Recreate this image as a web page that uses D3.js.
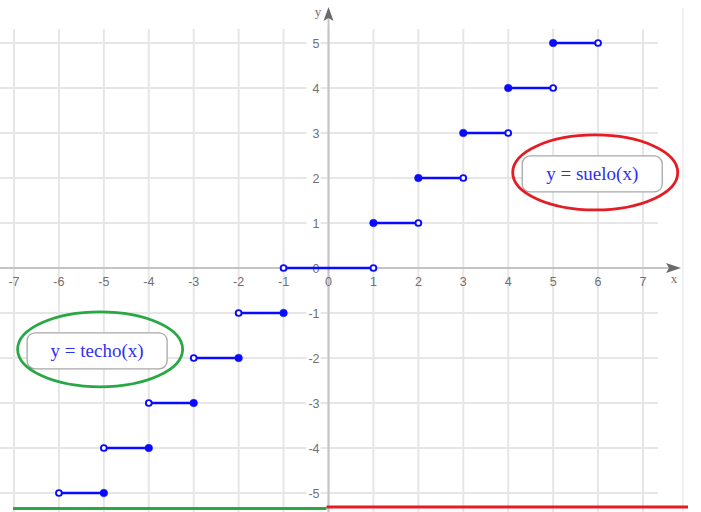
<!DOCTYPE html>
<html>
<head>
<meta charset="utf-8">
<script src="https://cdn.jsdelivr.net/npm/d3@7/dist/d3.min.js"></script>
<style>
  html, body { margin: 0; padding: 0; background: #fff; }
  svg { display: block; }
</style>
</head>
<body>
<svg id="chart" width="701" height="512"></svg>
<script>
// Tick values along each axis
const xTicks = [-7, -6, -5, -4, -3, -2, -1, 0, 1, 2, 3, 4, 5, 6, 7];
const yTicks = [-5, -4, -3, -2, -1, 1, 2, 3, 4, 5];

// Step segments: floor(x) for x >= 0, ceiling(x) for x <= 0
const segStart  = [-6, -5, -4, -3, -2, -1, 1, 2, 3, 4, 5];
const segEnd    = [-5, -4, -3, -2, -1, 1, 2, 3, 4, 5, 6];
const segLevel  = [-5, -4, -3, -2, -1, 0, 1, 2, 3, 4, 5];
const startShut = [false, false, false, false, false, false, true, true, true, true, true];
const endShut   = [true, true, true, true, true, false, false, false, false, false, false];

// Function labels
const labelTexts = ["y = suelo(x)", "y = techo(x)"];
const labelCenters = [[5.87, 2.09], [-5.15, -1.84]];
const labelColors = ["#e41c24", "#27a844"];

const svg = d3.select("#chart");
const x = d3.scaleLinear().domain([-7, 7]).range([14, 643]);
const y = d3.scaleLinear().domain([-5, 5]).range([493, 43]);

const gridColor = "#e6e6e6";
const axisColor = "#c4c4c4";

// Grid
const grid = svg.append("g");
grid.selectAll("line.v").data(xTicks).join("line")
  .attr("x1", d => x(d)).attr("x2", d => x(d))
  .attr("y1", 29).attr("y2", 512)
  .attr("stroke", gridColor).attr("stroke-width", 2);
grid.selectAll("line.h").data(yTicks).join("line")
  .attr("x1", 0).attr("x2", 658)
  .attr("y1", d => y(d)).attr("y2", d => y(d))
  .attr("stroke", gridColor).attr("stroke-width", 2);
grid.append("line")
  .attr("x1", x(8) - 5).attr("x2", x(8) - 5)
  .attr("y1", 8).attr("y2", 512)
  .attr("stroke", "#e8e8e8").attr("stroke-width", 1.2);

// Axes
svg.append("line")
  .attr("x1", 0).attr("x2", 670)
  .attr("y1", y(0)).attr("y2", y(0))
  .attr("stroke", axisColor).attr("stroke-width", 2);
svg.append("line")
  .attr("x1", x(0)).attr("x2", x(0))
  .attr("y1", 512).attr("y2", 18)
  .attr("stroke", axisColor).attr("stroke-width", 2);
svg.append("path")
  .attr("d", `M${x(0)},7 L${x(0) + 5},21 L${x(0)},18 L${x(0) - 5},21 Z`)
  .attr("fill", "#6a6a6a");
svg.append("path")
  .attr("d", `M681,${y(0)} L666,${y(0) - 5} L669,${y(0)} L666,${y(0) + 5} Z`)
  .attr("fill", "#6a6a6a");

// Axis tick labels
const tickFont = "Liberation Sans, Arial, sans-serif";
svg.append("g").selectAll("text").data(xTicks).join("text")
  .attr("x", d => x(d)).attr("y", y(0) + 18)
  .attr("text-anchor", "middle")
  .attr("font-family", tickFont).attr("font-size", 12.5)
  .attr("fill", "#707070")
  .text(d => d);
const yLab = svg.append("g").selectAll("g").data(yTicks.concat([0])).join("g");
yLab.append("rect")
  .attr("x", x(0) - 22).attr("y", d => y(d) - 7)
  .attr("width", 14).attr("height", 14)
  .attr("fill", "#fff");
yLab.append("text")
  .attr("x", x(0) - 9).attr("y", d => y(d) + 4.5)
  .attr("text-anchor", "end")
  .attr("font-family", tickFont).attr("font-size", 12.5)
  .attr("fill", "#707070")
  .text(d => d);

svg.append("text").attr("x", 674).attr("y", 283)
  .attr("text-anchor", "middle")
  .attr("font-family", "Liberation Serif, serif").attr("font-size", 13)
  .attr("fill", "#707070").text("x");
svg.append("text").attr("x", 318).attr("y", 16)
  .attr("text-anchor", "middle")
  .attr("font-family", "Liberation Serif, serif").attr("font-size", 13)
  .attr("fill", "#707070").text("y");

// Step segments
const blue = "#0a0aff";
const segs = segLevel.map((v, i) => ({ a: segStart[i], b: segEnd[i], v, sa: startShut[i], sb: endShut[i] }));
svg.append("g").selectAll("line").data(segs).join("line")
  .attr("x1", d => x(d.a)).attr("x2", d => x(d.b))
  .attr("y1", d => y(d.v)).attr("y2", d => y(d.v))
  .attr("stroke", blue).attr("stroke-width", 2.5);
const dots = [];
segs.forEach(d => {
  dots.push({ cx: d.a, cy: d.v, shut: d.sa });
  dots.push({ cx: d.b, cy: d.v, shut: d.sb });
});
svg.append("g").selectAll("circle").data(dots).join("circle")
  .attr("cx", d => x(d.cx)).attr("cy", d => y(d.cy))
  .attr("r", d => d.shut ? 3.8 : 2.9)
  .attr("fill", d => d.shut ? blue : "#fff")
  .attr("stroke", blue)
  .attr("stroke-width", d => d.shut ? 0.5 : 1.9);

// Label boxes with ellipse outlines
const labels = svg.append("g").selectAll("g").data(labelTexts).join("g")
  .attr("transform", (d, i) => `translate(${x(labelCenters[i][0])},${y(labelCenters[i][1])})`);
labels.append("rect")
  .attr("x", -70).attr("y", -18).attr("width", 140).attr("height", 36)
  .attr("rx", 8).attr("fill", "#fff")
  .attr("stroke", "#a8a8a8").attr("stroke-width", 1.3);
labels.append("text")
  .attr("x", 0).attr("y", 6)
  .attr("text-anchor", "middle")
  .attr("font-family", "Liberation Serif, 'Times New Roman', serif")
  .attr("font-size", 19)
  .attr("fill", "#3030f0")
  .text(d => d);
labels.append("ellipse")
  .attr("cx", 3).attr("cy", -1.5).attr("rx", 82.5).attr("ry", 37.5)
  .attr("fill", "none")
  .attr("stroke", (d, i) => labelColors[i]).attr("stroke-width", 2.8);

// Baseline bars marking each half
svg.append("line").attr("x1", 13).attr("x2", x(0) - 2)
  .attr("y1", 508.5).attr("y2", 508.5)
  .attr("stroke", labelColors[1]).attr("stroke-width", 3);
svg.append("line").attr("x1", x(0) - 2).attr("x2", 688)
  .attr("y1", 507).attr("y2", 507)
  .attr("stroke", labelColors[0]).attr("stroke-width", 3);
</script>
</body>
</html>
